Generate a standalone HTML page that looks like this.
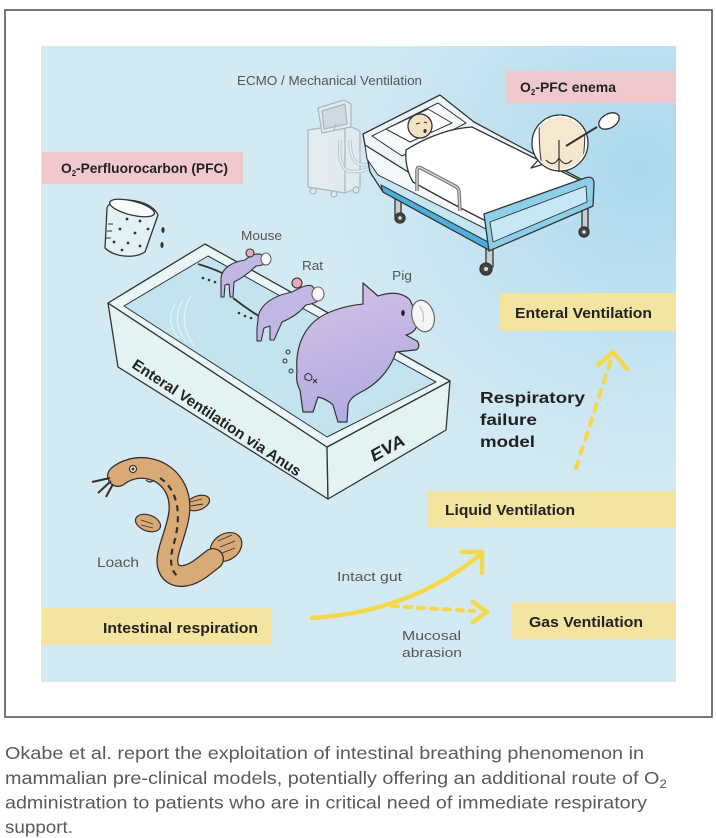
<!DOCTYPE html>
<html><head><meta charset="utf-8">
<style>
html,body{margin:0;padding:0;background:#fff;}
svg{display:block;}
text{font-family:"Liberation Sans",Arial,sans-serif;}
</style></head><body>
<svg width="716" height="838" viewBox="0 0 716 838" xmlns="http://www.w3.org/2000/svg">
<defs>
<radialGradient id="blue" cx="640" cy="170" r="380" gradientUnits="userSpaceOnUse">
 <stop offset="0" stop-color="#a9d7ec" stop-opacity="1"/>
 <stop offset="0.55" stop-color="#bfe1f0" stop-opacity="0.6"/>
 <stop offset="1" stop-color="#d4eaf3" stop-opacity="0"/>
</radialGradient>
<linearGradient id="pigg" x1="0" y1="0" x2="0.3" y2="1">
 <stop offset="0" stop-color="#d7c2e7"/>
 <stop offset="0.45" stop-color="#c6b7e4"/>
 <stop offset="1" stop-color="#b2ace2"/>
</linearGradient>
<clipPath id="bub"><circle cx="560" cy="143" r="26"/></clipPath>
</defs>

<rect x="0" y="0" width="716" height="838" fill="#fff"/>
<rect x="5" y="10" width="707" height="707" fill="#fff" stroke="#555" stroke-width="1.6"/>
<rect x="41" y="46" width="635" height="636" fill="#d4eaf3"/>
<rect x="41" y="46" width="635" height="636" fill="url(#blue)"/>

<!-- labels -->
<text x="237" y="85" font-size="13" fill="#555" textLength="185" lengthAdjust="spacingAndGlyphs">ECMO / Mechanical Ventilation</text>
<rect x="505" y="71" width="171" height="32" fill="#f0c9cf"/>
<text x="520" y="92" font-size="14" font-weight="bold" fill="#222" textLength="96" lengthAdjust="spacingAndGlyphs">O<tspan font-size="8" dy="3">2</tspan><tspan dy="-3">-PFC enema</tspan></text>
<rect x="42" y="152" width="201" height="32" fill="#f0c9cf"/>
<text x="61" y="173" font-size="14" font-weight="bold" fill="#222" textLength="167" lengthAdjust="spacingAndGlyphs">O<tspan font-size="8" dy="3">2</tspan><tspan dy="-3">-Perfluorocarbon (PFC)</tspan></text>

<!-- ECMO machine -->
<g opacity="0.75" stroke="#9aa6ad" stroke-width="1.2" fill="#e6ecef" stroke-linejoin="round">
 <path d="M308,130 L345,124 L360,131 L360,187 L345,193 L308,187 Z"/>
 <path d="M345,124 L345,193" fill="none"/>
 <path d="M318,108 L344,100 L351,104 L351,127 L322,133 Z"/>
 <path d="M322,111 L345,104 L347,124 L324,129 Z" fill="#cdd6db"/>
 <path d="M334,130 L336,124" fill="none"/>
 <circle cx="313" cy="191" r="3"/><circle cx="334" cy="194" r="3"/><circle cx="356" cy="190" r="3"/>
 <path d="M340,140 C338,170 345,175 365,170 C380,166 390,158 398,148" fill="none" stroke-width="3.5" stroke="#b4bfc4"/>
 <path d="M350,140 C350,160 356,168 372,164 C385,160 392,152 400,146" fill="none" stroke-width="3.5" stroke="#b4bfc4"/>
 <path d="M340,140 C338,170 345,175 365,170 C380,166 390,158 398,148" fill="none" stroke-width="1.5" stroke="#eef2f4"/>
 <path d="M350,140 C350,160 356,168 372,164 C385,160 392,152 400,146" fill="none" stroke-width="1.5" stroke="#eef2f4"/>
</g>

<!-- Bed -->
<g stroke="#333" stroke-width="1.3" stroke-linejoin="round">
 <rect x="395" y="190" width="6" height="26" fill="#c9cdd0"/>
 <circle cx="400" cy="218" r="5" fill="#444"/><circle cx="400" cy="218" r="1.8" fill="#ddd" stroke="none"/>
 <rect x="582" y="198" width="6" height="31" fill="#c9cdd0"/>
 <circle cx="584" cy="232" r="5" fill="#444"/><circle cx="584" cy="232" r="1.8" fill="#ddd" stroke="none"/>
 <rect x="486" y="244" width="7" height="23" fill="#c9cdd0"/>
 <circle cx="486" cy="269" r="6" fill="#444"/><circle cx="486" cy="269" r="2" fill="#ddd" stroke="none"/>
 <path d="M365,145 L485,220 L489,250 L383,192 L370,172 Z" fill="#c3e6f2"/>
 <path d="M381,185 L488,242 L489,250 L383,192 Z" fill="#4cb0dc" stroke-width="1"/>
 <path d="M365,145 L485,220 L486,229 L378,175 L367,159 Z" fill="#f3f8fa" stroke-width="1"/>
 <path d="M363,134 L440,95 L474,122 L588,183 L485,220 L365,145 Z" fill="#eef5f8"/>
 <path d="M372,136 L438,103 L466,123 L402,156 Z" fill="#f7fafb" stroke-width="1"/>
 <path d="M386,129 L428,109 L452,123 L410,142 Z" fill="#fff" stroke-width="1"/>
 <circle cx="420" cy="126" r="12" fill="#f4e0c2"/>
 <path d="M416,124 l4,-1 M424,122 l3,1" stroke-width="1" fill="none"/>
 <ellipse cx="425" cy="131" rx="1.6" ry="2" fill="#333" stroke="none"/>
 <path d="M406,150 C428,136 452,128 472,127 L587,184 L486,221 C468,212 438,196 413,182 C407,172 405,160 406,150 Z" fill="#fff"/>
 <path d="M417,191 L417,171 Q417,166 421,168 L455,186 Q459,188 459,192 L460,211" fill="none" stroke="#777" stroke-width="3.6"/>
 <path d="M417,191 L417,171 Q417,166 421,168 L455,186 Q459,188 459,192 L460,211" fill="none" stroke="#cfd3d6" stroke-width="1.4"/>
 <path d="M484,214 L585,178 Q594,175 594,184 L593,206 L489,251 Z" fill="#8dcfe8"/>
 <path d="M490,222 L586,186 L587,202 L493,242 Z" fill="#c6e8f4" stroke-width="0.9"/>
 <path d="M540,158 L531,168 L544,164 Z" fill="#fff"/>
 <circle cx="560" cy="143" r="28" fill="#fff"/>
 <g clip-path="url(#bub)">
  <rect x="540" y="112" width="44" height="62" rx="10" fill="#f6e7cf" stroke="none"/>
  <path d="M540,112 C538,140 540,160 544,175 M584,112 C586,140 584,160 580,175" fill="none" stroke-width="1"/>
 </g>
 <path d="M546,160 Q553,168 559,158 Q565,168 572,160" fill="none" stroke-width="1.2"/>
 <path d="M559,140 L559,172" fill="none" stroke-width="1.2"/>
 <path d="M566,146 L597,127" fill="none" stroke-width="2"/>
 <ellipse cx="609" cy="121" rx="11" ry="7" transform="rotate(-30 609 121)" fill="#fff"/>
</g>

<!-- beaker -->
<g stroke="#333" stroke-width="1.3" stroke-linejoin="round">
 <path d="M107,208 C110,196 150,197 158,215 L145,252 C134,259 114,257 105,248 Z" fill="#e2f1f3"/>
 <ellipse cx="132" cy="208" rx="23" ry="7" transform="rotate(14 132 208)" fill="#fbfdfd"/>
 <path d="M108,224 h5 M107,231 h5 M106,238 h5" fill="none" stroke-width="1"/>
 <g fill="#333" stroke="none">
  <circle cx="127" cy="219" r="1.4"/><circle cx="140" cy="221" r="1.4"/><circle cx="120" cy="229" r="1.4"/>
  <circle cx="135" cy="233" r="1.4"/><circle cx="148" cy="229" r="1.4"/><circle cx="114" cy="242" r="1.4"/>
  <circle cx="128" cy="243" r="1.4"/><circle cx="140" cy="246" r="1.4"/><circle cx="122" cy="250" r="1.4"/>
  <ellipse cx="163" cy="230" rx="1.6" ry="3"/><ellipse cx="162" cy="245" rx="1.6" ry="3"/>
 </g>
</g>

<!-- tub -->
<g stroke="#333" stroke-width="1.3" stroke-linejoin="round">
 <path d="M108,303 L327,447 L328,499 L118,367 Z" fill="#e3f2f2"/>
 <path d="M327,447 L450,381 L446,430 L328,499 Z" fill="#e3f2f2"/>
 <path d="M108,303 L205,244 L450,381 L327,447 Z" fill="#eaf6f6"/>
 <path d="M124,306 L208,256 L436,382 L327,437 Z" fill="#c3e3ee" stroke-width="1"/>
</g>
<g fill="none" stroke="#fff" stroke-opacity="0.7" stroke-width="1">
 <path d="M175,305 Q165,320 178,338"/><path d="M183,300 Q170,320 186,342"/><path d="M191,296 Q176,320 194,346"/>
</g>
<text transform="translate(131,367) rotate(33.5)" font-size="15" font-weight="bold" fill="#222" textLength="199" lengthAdjust="spacingAndGlyphs">Enteral Ventilation via Anus</text>
<text transform="translate(374,462) rotate(-29)" font-size="17" font-weight="bold" font-style="italic" fill="#222" textLength="37" lengthAdjust="spacingAndGlyphs">EVA</text>

<!-- mouse -->
<g stroke="#333" stroke-width="1.1" stroke-linejoin="round">
 <path d="M222,273 C212,268 204,266 198,264" fill="none" stroke-width="1.8"/>
 <path d="M221,278 C222,268 232,262 245,260 C250,256 256,252 262,255 L270,260 C266,264 262,266 256,266 C250,272 242,278 234,282 L233,297 L230,297 L229,284 L225,285 L224,297 L221,297 Z" fill="#c1b6e4"/>
 <circle cx="250" cy="253" r="4" fill="#eaa9b9"/>
 <ellipse cx="266" cy="259" rx="5" ry="6" fill="#f7f7f7" stroke="#666"/>
 <g fill="#333" stroke="none"><circle cx="203" cy="278" r="1.3"/><circle cx="209" cy="280" r="1.3"/><circle cx="215" cy="282" r="1.3"/></g>
</g>
<text x="241" y="240" font-size="13" fill="#555" textLength="41" lengthAdjust="spacingAndGlyphs">Mouse</text>

<!-- rat -->
<g stroke="#333" stroke-width="1.1" stroke-linejoin="round">
 <path d="M262,318 C252,312 242,305 233,298" fill="none" stroke-width="1.8"/>
 <path d="M258,320 C258,306 272,296 292,292 C300,288 306,284 312,286 L322,298 C318,302 312,304 306,305 C300,312 292,318 282,322 L274,340 L270,340 L270,326 L264,328 L261,341 L257,341 L257,328 Z" fill="#c1b6e4"/>
 <circle cx="297" cy="283" r="5" fill="#eaa9b9"/>
 <ellipse cx="318" cy="294" rx="6" ry="7" fill="#f7f7f7" stroke="#666"/>
 <g fill="#333" stroke="none"><circle cx="239" cy="313" r="1.3"/><circle cx="245" cy="316" r="1.3"/><circle cx="251" cy="318" r="1.3"/></g>
</g>
<text x="302" y="270" font-size="13" fill="#555" textLength="21" lengthAdjust="spacingAndGlyphs">Rat</text>

<!-- pig -->
<g stroke="#333" stroke-width="1.2" stroke-linejoin="round">
 <path d="M297,372 C295,345 305,322 330,312 C345,306 355,305 363,304 L363,283 L378,296 C390,292 402,292 410,300 L418,318 C418,328 414,333 406,335 L417,341 C420,344 419,350 415,350 L396,352 C392,365 382,380 365,390 C355,395 350,398 348,405 L347,422 L338,422 L333,405 C328,400 322,398 318,397 L313,412 L303,412 L300,390 C297,385 296,378 297,372 Z" fill="url(#pigg)"/>
 <ellipse cx="423" cy="316" rx="11" ry="16" transform="rotate(-15 423 316)" fill="#f5f5f5" stroke="#666"/>
 <path d="M419,306 q6,6 4,16" fill="none" stroke="#bbb" stroke-width="1"/>
 <ellipse cx="403" cy="313" rx="1.8" ry="3" fill="#222" stroke="none"/>
 <path d="M306,380 c-4,-4 2,-9 5,-5 c3,4 -2,8 -5,4" fill="none" stroke-width="1"/>
 <path d="M313,383 l4,-4 M313,379 l4,4" stroke-width="1"/>
 <g fill="none" stroke-width="1"><circle cx="288" cy="352" r="2"/><circle cx="285" cy="361" r="2"/><circle cx="291" cy="371" r="2"/></g>
</g>
<text x="392" y="280" font-size="13" fill="#555" textLength="20" lengthAdjust="spacingAndGlyphs">Pig</text>

<!-- loach -->
<g stroke="#3a2f2a" stroke-width="1.2" stroke-linejoin="round">
 <ellipse cx="198" cy="503" rx="12" ry="7" transform="rotate(-20 198 503)" fill="#d8aa76"/>
 <ellipse cx="148" cy="523" rx="13" ry="8" transform="rotate(20 148 523)" fill="#d8aa76"/>
 <ellipse cx="226" cy="547" rx="17" ry="13" transform="rotate(-35 226 547)" fill="#d8aa76"/>
 <path d="M218,541 l14,-6 M220,547 l15,-6 M222,553 l13,-5" stroke-width="0.9" fill="none"/>
 <path d="M190,502 l12,-3 M191,506 l12,-2 M141,520 l12,4 M141,525 l12,3" stroke-width="0.9" fill="none"/>
 <path d="M118,476 C135,462 165,466 176,490 C186,512 172,535 168,555 C164,575 180,583 200,569 L213,559" fill="none" stroke="#3a2f2a" stroke-width="22" stroke-linecap="round"/>
 <path d="M118,476 C135,462 165,466 176,490 C186,512 172,535 168,555 C164,575 180,583 200,569 L213,559" fill="none" stroke="#d8aa76" stroke-width="19.4" stroke-linecap="round"/>
 <path d="M160,478 C178,490 182,515 174,543 C169,560 170,572 180,578" fill="none" stroke="#3a2f2a" stroke-width="2.2" stroke-dasharray="6 5"/>
 <circle cx="133" cy="469" r="3.5" fill="#fff"/><circle cx="133" cy="469" r="1.5" fill="#3a2f2a" stroke="none"/>
 <path d="M146,480 q4,4 8,0" fill="none"/>
 <path d="M110,478 L92,482 M111,481 L98,493 M113,484 L106,497" fill="none" stroke-width="2"/>
</g>
<text x="97" y="567" font-size="14" fill="#555" textLength="42" lengthAdjust="spacingAndGlyphs">Loach</text>

<!-- right side labels -->
<rect x="500" y="293" width="176" height="38" fill="#f3e4a0"/>
<text x="515" y="318" font-size="15" font-weight="bold" fill="#222" textLength="137" lengthAdjust="spacingAndGlyphs">Enteral Ventilation</text>
<text x="480" y="403" font-size="16" font-weight="bold" fill="#222" textLength="105" lengthAdjust="spacingAndGlyphs">Respiratory</text>
<text x="480" y="425" font-size="16" font-weight="bold" fill="#222" textLength="57" lengthAdjust="spacingAndGlyphs">failure</text>
<text x="480" y="447" font-size="16" font-weight="bold" fill="#222" textLength="55" lengthAdjust="spacingAndGlyphs">model</text>
<rect x="427" y="491" width="249" height="37" fill="#f3e4a0"/>
<text x="445" y="515" font-size="15" font-weight="bold" fill="#222" textLength="130" lengthAdjust="spacingAndGlyphs">Liquid Ventilation</text>
<rect x="512" y="602" width="164" height="37" fill="#f3e4a0"/>
<text x="529" y="627" font-size="15" font-weight="bold" fill="#222" textLength="114" lengthAdjust="spacingAndGlyphs">Gas Ventilation</text>
<rect x="42" y="608" width="230" height="37" fill="#f3e4a0"/>
<text x="103" y="633" font-size="15" font-weight="bold" fill="#222" textLength="155" lengthAdjust="spacingAndGlyphs">Intestinal respiration</text>
<text x="337" y="581" font-size="13" fill="#555" textLength="65" lengthAdjust="spacingAndGlyphs">Intact gut</text>
<text x="402" y="640" font-size="13" fill="#555" textLength="59" lengthAdjust="spacingAndGlyphs">Mucosal</text>
<text x="402" y="657" font-size="13" fill="#555" textLength="60" lengthAdjust="spacingAndGlyphs">abrasion</text>

<!-- arrows -->
<g fill="none" stroke="#f4d84a" stroke-linecap="round" stroke-linejoin="round">
 <path d="M576,468 L611,360" stroke-width="4" stroke-dasharray="7 8"/>
 <polyline points="598,365 613,352 627,369" stroke-width="4.5"/>
 <path d="M312,618 Q410,612 480,555" stroke-width="4.5"/>
 <polyline points="462,552 482,552 482,573" stroke-width="4.5"/>
 <path d="M392,606 L474,611" stroke-width="4" stroke-dasharray="6 7"/>
 <polyline points="473,602 487,612 473,622" stroke-width="4.5"/>
</g>

<!-- caption -->
<g font-size="17.5" fill="#5a5a5a">
<text x="5" y="759" textLength="639" lengthAdjust="spacingAndGlyphs">Okabe et al. report the exploitation of intestinal breathing phenomenon in</text>
<text x="5" y="784" textLength="662" lengthAdjust="spacingAndGlyphs">mammalian pre-clinical models, potentially offering an additional route of O<tspan font-size="12" dy="4">2</tspan></text>
<text x="5" y="808.5" textLength="642" lengthAdjust="spacingAndGlyphs">administration to patients who are in critical need of immediate respiratory</text>
<text x="5" y="833" textLength="68" lengthAdjust="spacingAndGlyphs">support.</text>
</g>
</svg>
</body></html>
